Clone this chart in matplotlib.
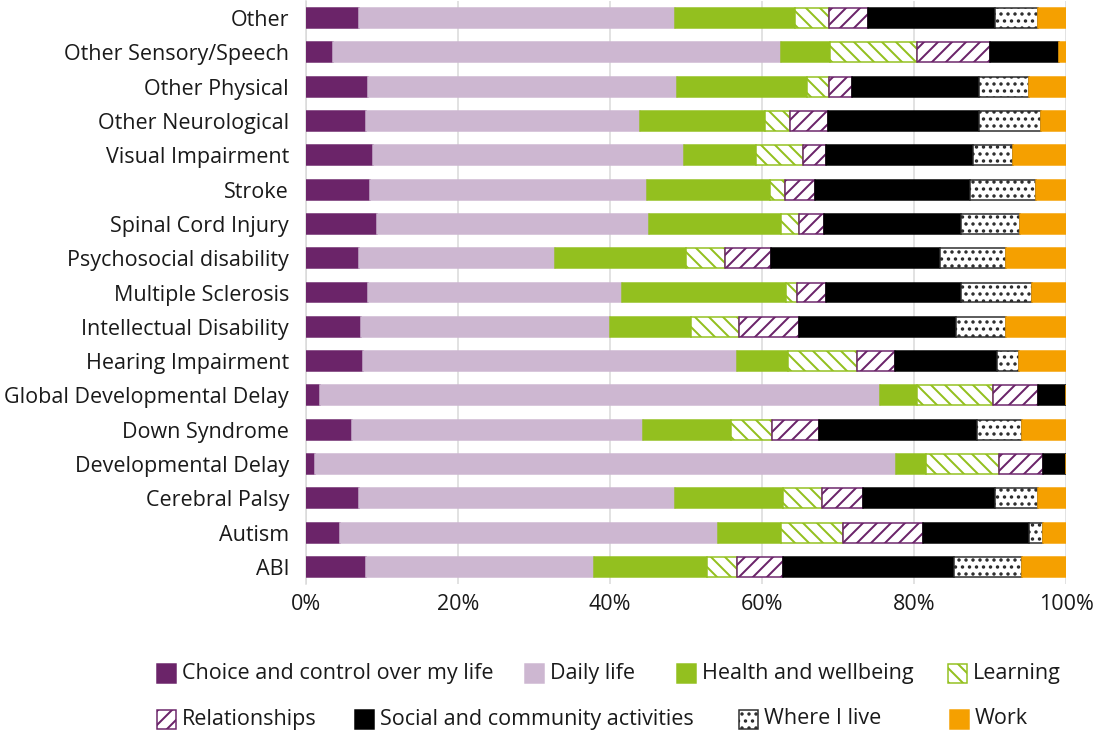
import matplotlib
matplotlib.use("Agg")
import matplotlib.pyplot as plt
from matplotlib.patches import Rectangle
import numpy as np

categories = ["Other", "Other Sensory/Speech", "Other Physical", "Other Neurological",
              "Visual Impairment", "Stroke", "Spinal Cord Injury", "Psychosocial disability",
              "Multiple Sclerosis", "Intellectual Disability", "Hearing Impairment",
              "Global Developmental Delay", "Down Syndrome", "Developmental Delay",
              "Cerebral Palsy", "Autism", "ABI"]

choice   = [7.0, 3.6, 8.2, 7.9, 8.8, 8.4, 9.3, 7.0, 8.2, 7.2, 7.5, 1.8, 6.1, 1.2, 7.0, 4.5, 7.9]
daily    = [41.6, 58.9, 40.6, 36.0, 40.9, 36.5, 35.8, 25.8, 33.4, 32.8, 49.2, 73.7, 38.2, 76.4, 41.6, 49.7, 30.0]
health   = [15.7, 6.4, 17.1, 16.5, 9.5, 16.2, 17.4, 17.2, 21.6, 10.7, 6.7, 4.9, 11.6, 4.0, 14.2, 8.3, 14.9]
learning = [4.5, 11.5, 2.9, 3.3, 6.2, 1.9, 2.4, 5.1, 1.4, 6.3, 9.1, 10.0, 5.4, 9.6, 5.1, 8.2, 3.9]
relation = [5.1, 9.6, 3.0, 5.0, 3.0, 4.0, 3.3, 6.1, 3.8, 7.9, 5.0, 5.9, 6.2, 5.8, 5.4, 10.5, 6.1]
social   = [16.8, 9.1, 16.8, 19.9, 19.4, 20.4, 18.0, 22.2, 17.8, 20.6, 13.4, 3.7, 20.8, 3.0, 17.4, 13.9, 22.5]
where    = [5.6, 0.0, 6.5, 8.1, 5.2, 8.7, 7.7, 8.7, 9.3, 6.6, 2.9, 0.0, 5.9, 0.0, 5.6, 1.9, 8.9]
work     = [3.7, 0.9, 4.9, 3.3, 7.0, 3.9, 6.1, 7.9, 4.5, 7.9, 6.2, 0.0, 5.8, 0.0, 3.7, 3.0, 5.8]

series_names = ["Choice and control over my life", "Daily life", "Health and wellbeing",
                "Learning", "Relationships", "Social and community activities",
                "Where I live", "Work"]
x_ticks = [0, 20, 40, 60, 80, 100]
x_tick_labels = ["0%", "20%", "40%", "60%", "80%", "100%"]

DPI = 84
W, H = 1093, 731
def pt(px):
    return px * 72.0 / DPI

PURPLE = "#6b2469"
LILAC = "#cdb7d1"
GREEN = "#93c01f"
ORANGE = "#f5a000"
TEXT = "#1a1a1a"
styles = [
    dict(facecolor=PURPLE, edgecolor=PURPLE, hatch=None),
    dict(facecolor=LILAC, edgecolor=LILAC, hatch=None),
    dict(facecolor=GREEN, edgecolor=GREEN, hatch=None),
    dict(facecolor="white", edgecolor=GREEN, hatch="\\\\"),
    dict(facecolor="white", edgecolor=PURPLE, hatch="//"),
    dict(facecolor="black", edgecolor="black", hatch=None),
    dict(facecolor="white", edgecolor="#2a2a2a", hatch=".."),
    dict(facecolor=ORANGE, edgecolor=ORANGE, hatch=None),
]

plt.rcParams['font.family'] = ['Open Sans', 'DejaVu Sans']
plt.rcParams['hatch.linewidth'] = pt(2.0)

FS = pt(21.5)

fig = plt.figure(figsize=(W / DPI, H / DPI), dpi=DPI)
ax = fig.add_axes([306 / W, 1 - 584 / H, 760 / W, 583 / H])

data = [choice, daily, health, learning, relation, social, where, work]
y = np.arange(len(categories))
left = np.zeros(len(categories))
for vals, st in zip(data, styles):
    vals = np.array(vals)
    ax.barh(y, vals, left=left, height=0.58, facecolor=st['facecolor'],
            edgecolor=st['edgecolor'], hatch=st['hatch'], linewidth=pt(1.5), zorder=3)
    left += vals

ax.set_xlim(0, 100)
ax.set_ylim(len(categories) - 0.5, -0.5)
ax.set_yticks(y)
ax.set_yticklabels(categories, fontsize=FS, color=TEXT)
ax.set_xticks(x_ticks)
ax.set_xticklabels(x_tick_labels, fontsize=FS, color=TEXT)
ax.tick_params(axis='both', length=0)
ax.tick_params(axis='y', pad=pt(17))
ax.tick_params(axis='x', pad=pt(10))
ax.grid(axis='x', color="#d9d9d9", linewidth=pt(1.5), zorder=0)
for s in ['top', 'right', 'bottom']:
    ax.spines[s].set_visible(False)
ax.spines['left'].set_color("#d9d9d9")
ax.spines['left'].set_linewidth(pt(1.5))

# legend (flow layout, two rows)
positions = [(157, 673), (525, 673), (677, 673), (948, 673),
             (157, 719), (355, 719), (739, 719), (950, 719)]
sz = 19
for (px, py), name, st in zip(positions, series_names, styles):
    r = Rectangle((px / W, 1 - (py + sz / 2) / H), sz / W, sz / H, transform=fig.transFigure,
                  facecolor=st['facecolor'], edgecolor=st['edgecolor'],
                  hatch=st['hatch'], linewidth=pt(1.5))
    fig.add_artist(r)
    fig.text((px + sz + 6) / W, 1 - py / H, name, fontsize=FS, va='center', ha='left',
             color=TEXT)

fig.savefig("out.png", dpi=DPI)
